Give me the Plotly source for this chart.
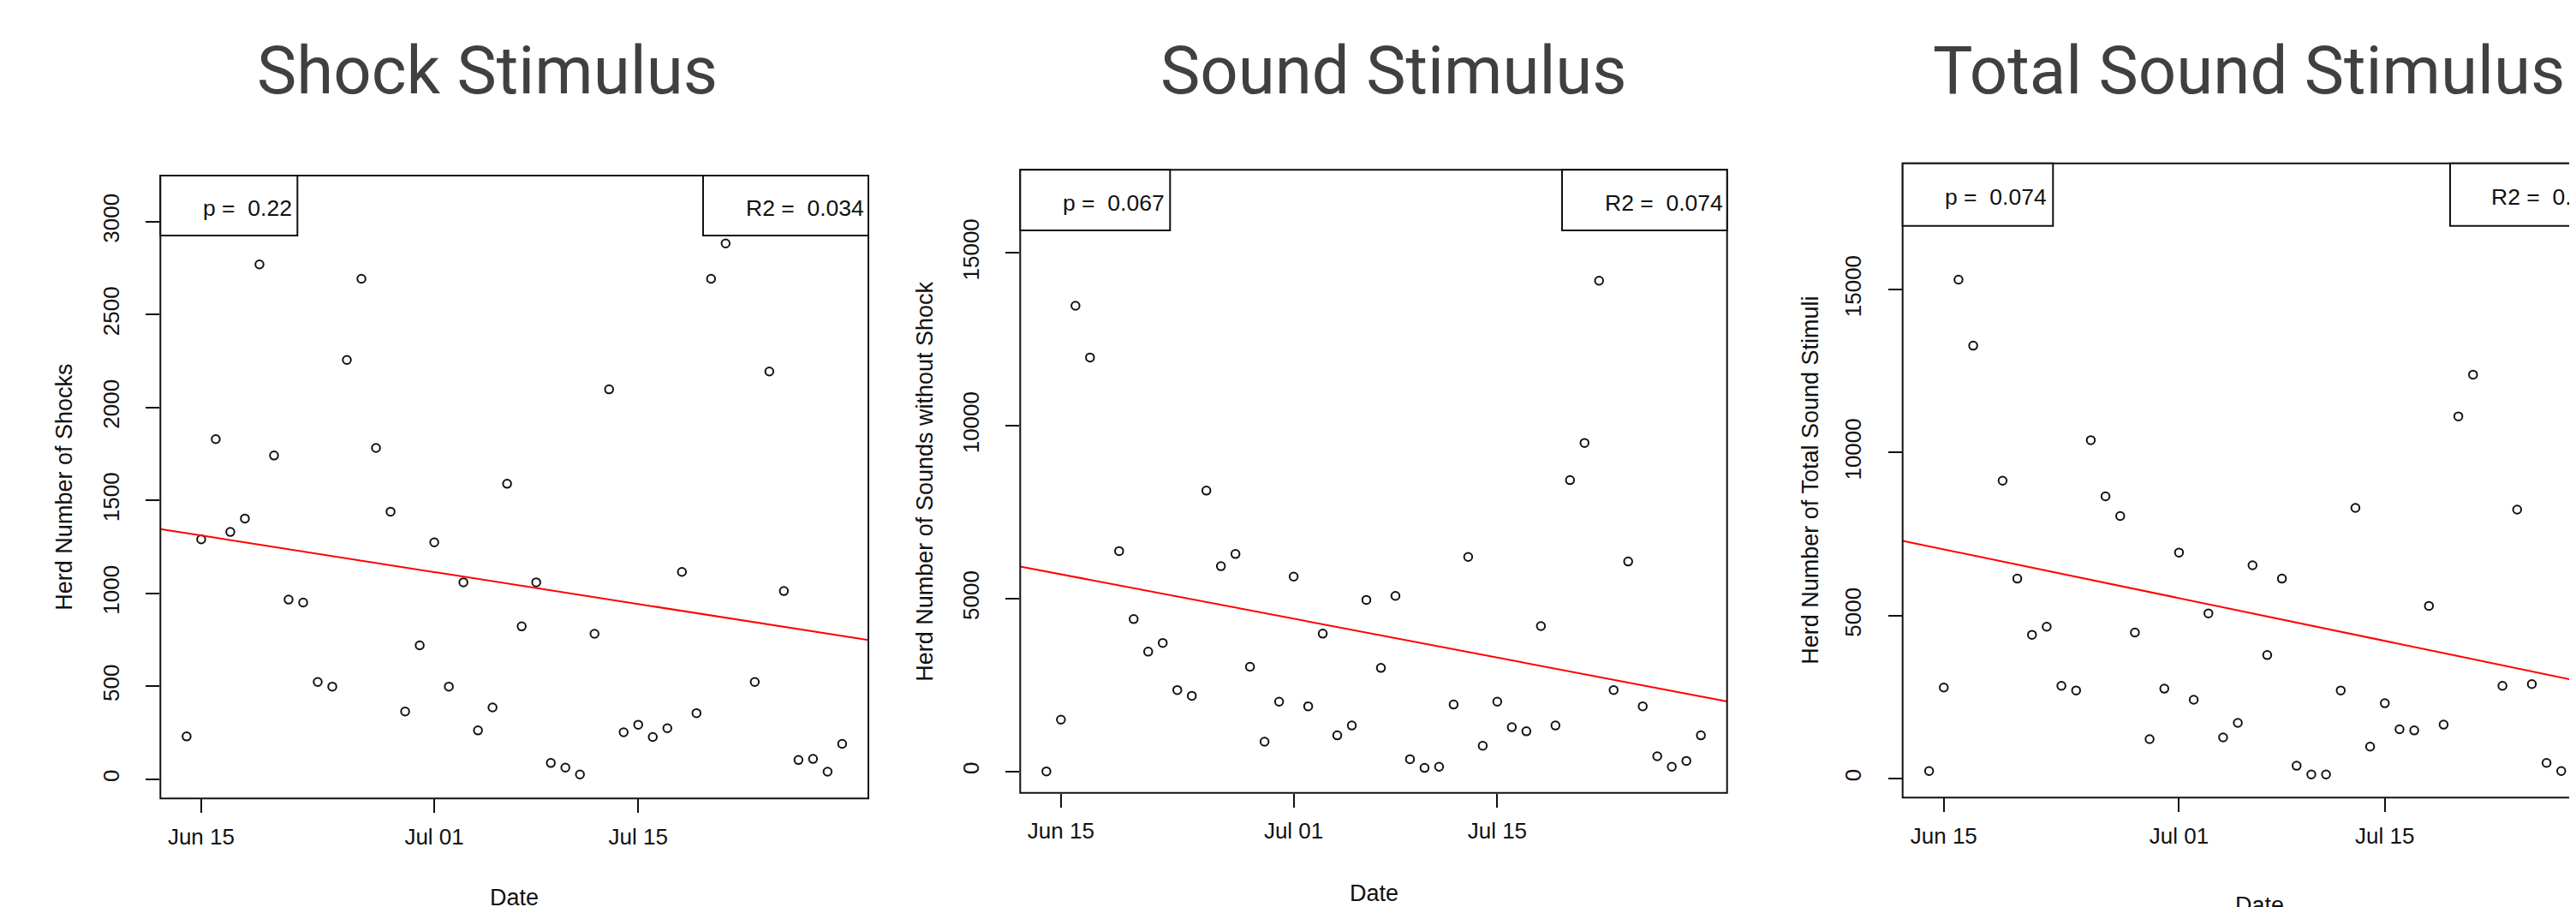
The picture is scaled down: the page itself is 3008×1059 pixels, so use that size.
import numpy as np
import pandas as pd
import plotly.graph_objects as go

# ---------------- data ----------------
shock_dates = ["2019-06-14", "2019-06-15", "2019-06-16", "2019-06-17", "2019-06-18", "2019-06-19",
               "2019-06-20", "2019-06-21", "2019-06-22", "2019-06-23", "2019-06-24", "2019-06-25",
               "2019-06-26", "2019-06-27", "2019-06-28", "2019-06-29", "2019-06-30", "2019-07-01",
               "2019-07-02", "2019-07-03", "2019-07-04", "2019-07-05", "2019-07-06", "2019-07-07",
               "2019-07-08", "2019-07-09", "2019-07-10", "2019-07-11", "2019-07-12", "2019-07-13",
               "2019-07-14", "2019-07-15", "2019-07-16", "2019-07-17", "2019-07-18", "2019-07-19",
               "2019-07-20", "2019-07-21", "2019-07-23", "2019-07-24", "2019-07-25", "2019-07-26",
               "2019-07-27", "2019-07-28", "2019-07-29"]
shocks = [230, 1290, 1829, 1330, 1402, 2769,
          1741, 966, 950, 523, 498, 2255,
          2692, 1782, 1439, 364, 720, 1274,
          498, 1059, 262, 386, 1589, 822,
          1059, 87, 62, 25, 782, 2097,
          252, 293, 227, 274, 1115, 355,
          2692, 2882, 523, 2193, 1012, 103,
          109, 40, 190]

sound_dates = ["2019-06-14", "2019-06-15", "2019-06-16", "2019-06-17", "2019-06-19",
               "2019-06-20", "2019-06-21", "2019-06-22", "2019-06-23", "2019-06-24", "2019-06-25",
               "2019-06-26", "2019-06-27", "2019-06-28", "2019-06-29", "2019-06-30", "2019-07-01",
               "2019-07-02", "2019-07-03", "2019-07-04", "2019-07-05", "2019-07-06", "2019-07-07",
               "2019-07-08", "2019-07-09", "2019-07-10", "2019-07-11", "2019-07-12", "2019-07-13",
               "2019-07-14", "2019-07-15", "2019-07-16", "2019-07-17", "2019-07-18", "2019-07-19",
               "2019-07-20", "2019-07-21", "2019-07-22", "2019-07-23", "2019-07-24", "2019-07-25",
               "2019-07-26", "2019-07-27", "2019-07-28", "2019-07-29"]
sounds = [0, 1497, 13470, 11973, 6373,
          4406, 3464, 3716, 2354, 2186, 8122,
          5936, 6289, 3027, 858, 2018, 5633,
          1883, 3985, 1043, 1328, 4961, 2993,
          5078, 353, 101, 135, 1934, 6205,
          740, 2018, 1278, 1160, 4204, 1328,
          8425, 9501, 14193, 2354, 6071, 1883,
          437, 135, 303, 1043]

total_dates = ["2019-06-14", "2019-06-15", "2019-06-16", "2019-06-17", "2019-06-19",
               "2019-06-20", "2019-06-21", "2019-06-22", "2019-06-23", "2019-06-24", "2019-06-25",
               "2019-06-26", "2019-06-27", "2019-06-28", "2019-06-29", "2019-06-30", "2019-07-01",
               "2019-07-02", "2019-07-03", "2019-07-04", "2019-07-05", "2019-07-06", "2019-07-07",
               "2019-07-08", "2019-07-09", "2019-07-10", "2019-07-11", "2019-07-12", "2019-07-13",
               "2019-07-14", "2019-07-15", "2019-07-16", "2019-07-17", "2019-07-18", "2019-07-19",
               "2019-07-20", "2019-07-21", "2019-07-23", "2019-07-24", "2019-07-25",
               "2019-07-26", "2019-07-27", "2019-07-28", "2019-07-29"]
totals = [231, 2790, 15303, 13276, 9135,
          6132, 4408, 4657, 2844, 2701, 10379,
          8655, 8051, 4479, 1209, 2755, 6931,
          2417, 5065, 1262, 1706, 6540, 3786,
          6132, 391, 124, 124, 2701, 8300,
          978, 2310, 1511, 1475, 5296, 1653,
          11108, 12388, 2844, 8247, 2897,
          480, 231, 338, 1233]

# fitted regression line, read at the left and right ends of the date range
fit_start = [1345, 5926, 7292]
fit_end = [748, 2025, 2743]

panel_titles = ["Shock Stimulus", "Sound Stimulus", "Total Sound Stimulus"]
y_titles = ["Herd Number of Shocks", "Herd Number of Sounds without Shock",
            "Herd Number of Total Sound Stimuli"]
p_values = ["0.22", "0.067", "0.074"]
r2_values = ["0.034", "0.074", "0.071"]
x_tick_dates = ["2019-06-15", "2019-07-01", "2019-07-15"]
x_tick_labels = ["Jun 15", "Jul 01", "Jul 15"]
y_ticks = [[0, 500, 1000, 1500, 2000, 2500, 3000],
           [0, 5000, 10000, 15000],
           [0, 5000, 10000, 15000]]

# ---------------- layout geometry (pixels in a 3008 x 1059 canvas) ----------------
W, H = 3008, 1059
BASE = pd.Timestamp("2019-06-15")
# plot boxes: (left, right, top, bottom); panel 3 runs past the canvas edge
boxes = [(179.3, 1006.0, 197.0, 924.3),
         (1183.3, 2008.7, 190.3, 917.7),
         (2213.7, 3048.0, 182.7, 923.3)]
y_ranges = [[-104, 3247], [-620, 17401], [-586, 18869]]
x_day_range = [-2.8, 45.8]   # days relative to Jun 15
legend_h = [70, 70.7, 73]
p_box_w = [160, 175, 175.6]
r2_box_w = [193, 192.7, 195]
r2_text_off = [47.5, 47.5, 45.5]
title_x = [560.5, 1619.6, 2617.5]
ytitle_x = [67, 1071.7, 2105.7]
date_y = [1040, 1035, 1049]

series = [(shock_dates, shocks), (sound_dates, sounds), (total_dates, totals)]

FONT = "Liberation Sans, Arial, sans-serif"
INK = "#111111"


def px(x):
    return x / W


def py(y):
    return 1 - y / H


fig = go.Figure()
shapes = []
annotations = []
layout_axes = {}

for i, ((dts, vals), (L, R, T, B)) in enumerate(zip(series, boxes)):
    k = "" if i == 0 else str(i + 1)
    xa, ya = "x" + k, "y" + k
    d = pd.to_datetime(dts)

    # visible x range (panel 3 is cut by the canvas edge)
    span = x_day_range[1] - x_day_range[0]
    right_px = min(R, W)
    right_day = x_day_range[0] + span * (right_px - L) / (R - L)
    x0 = BASE + pd.Timedelta(days=x_day_range[0])
    x1 = BASE + pd.Timedelta(days=right_day)

    fig.add_trace(go.Scatter(
        x=d, y=vals, mode="markers", xaxis=xa, yaxis=ya,
        marker=dict(symbol="circle-open", size=9.5, color=INK, line=dict(width=2, color=INK)),
        showlegend=False, hoverinfo="x+y"))

    # regression line
    fig.add_trace(go.Scatter(
        x=[BASE + pd.Timedelta(days=v) for v in x_day_range], y=[fit_start[i], fit_end[i]],
        mode="lines", xaxis=xa, yaxis=ya, line=dict(color="#ff0000", width=2),
        showlegend=False, hoverinfo="skip"))

    layout_axes["xaxis" + k] = dict(
        domain=[px(L), px(right_px)], anchor=ya, type="date", range=[x0, x1],
        tickmode="array", tickvals=x_tick_dates, ticktext=x_tick_labels,
        ticks="outside", ticklen=16, tickwidth=2, tickcolor=INK,
        showgrid=False, zeroline=False, showline=False,
        tickfont=dict(family=FONT, size=26, color=INK), ticklabelstandoff=5)
    layout_axes["yaxis" + k] = dict(
        domain=[py(B), py(T)], anchor=xa, range=y_ranges[i],
        tickmode="array", tickvals=y_ticks[i], ticktext=[str(v) for v in y_ticks[i]],
        tickangle=-90, ticks="outside", ticklen=16, tickwidth=2, tickcolor=INK,
        showgrid=False, zeroline=False, showline=False,
        tickfont=dict(family=FONT, size=26, color=INK), ticklabelstandoff=21)

    # plot frame
    shapes.append(dict(type="rect", xref="paper", yref="paper",
                       x0=px(L), x1=px(R), y0=py(B), y1=py(T),
                       line=dict(color=INK, width=2), layer="above"))
    # legend boxes
    lb = T + legend_h[i]
    shapes.append(dict(type="rect", xref="paper", yref="paper",
                       x0=px(L), x1=px(L + p_box_w[i]), y0=py(lb), y1=py(T),
                       line=dict(color=INK, width=2), fillcolor="white", layer="above"))
    shapes.append(dict(type="rect", xref="paper", yref="paper",
                       x0=px(R - r2_box_w[i]), x1=px(R), y0=py(lb), y1=py(T),
                       line=dict(color=INK, width=2), fillcolor="white", layer="above"))
    ty = (T + lb) / 2 + 3
    annotations.append(dict(text="p = \u00a0" + p_values[i], xref="paper", yref="paper",
                            x=px(L + 47.5), y=py(ty), xanchor="left", yanchor="middle",
                            showarrow=False, font=dict(family=FONT, size=26.5, color=INK)))
    annotations.append(dict(text="R2 = \u00a0" + r2_values[i], xref="paper", yref="paper",
                            x=px(R - r2_box_w[i] + r2_text_off[i]), y=py(ty), xanchor="left",
                            yanchor="middle", showarrow=False,
                            font=dict(family=FONT, size=26.5, color=INK)))
    # axis titles
    annotations.append(dict(text=y_titles[i], xref="paper", yref="paper",
                            x=px(ytitle_x[i]), y=py((T + B) / 2), xanchor="center", yanchor="middle",
                            textangle=-90, showarrow=False,
                            font=dict(family=FONT, size=27, color=INK)))
    annotations.append(dict(text="Date", xref="paper", yref="paper",
                            x=px((L + R) / 2), y=py(date_y[i]), xanchor="center", yanchor="middle",
                            showarrow=False, font=dict(family=FONT, size=27, color=INK)))
    # panel title
    annotations.append(dict(text=panel_titles[i], xref="paper", yref="paper",
                            x=px(title_x[i]), y=py(74), xanchor="center", yanchor="middle",
                            showarrow=False, font=dict(family="Roboto, sans-serif", size=78, color="#404040")))

fig.update_layout(
    width=W, height=H, margin=dict(l=0, r=0, t=0, b=0, pad=0),
    paper_bgcolor="white", plot_bgcolor="white",
    shapes=shapes, annotations=annotations, showlegend=False,
    **layout_axes)

fig.write_html("out.html")
